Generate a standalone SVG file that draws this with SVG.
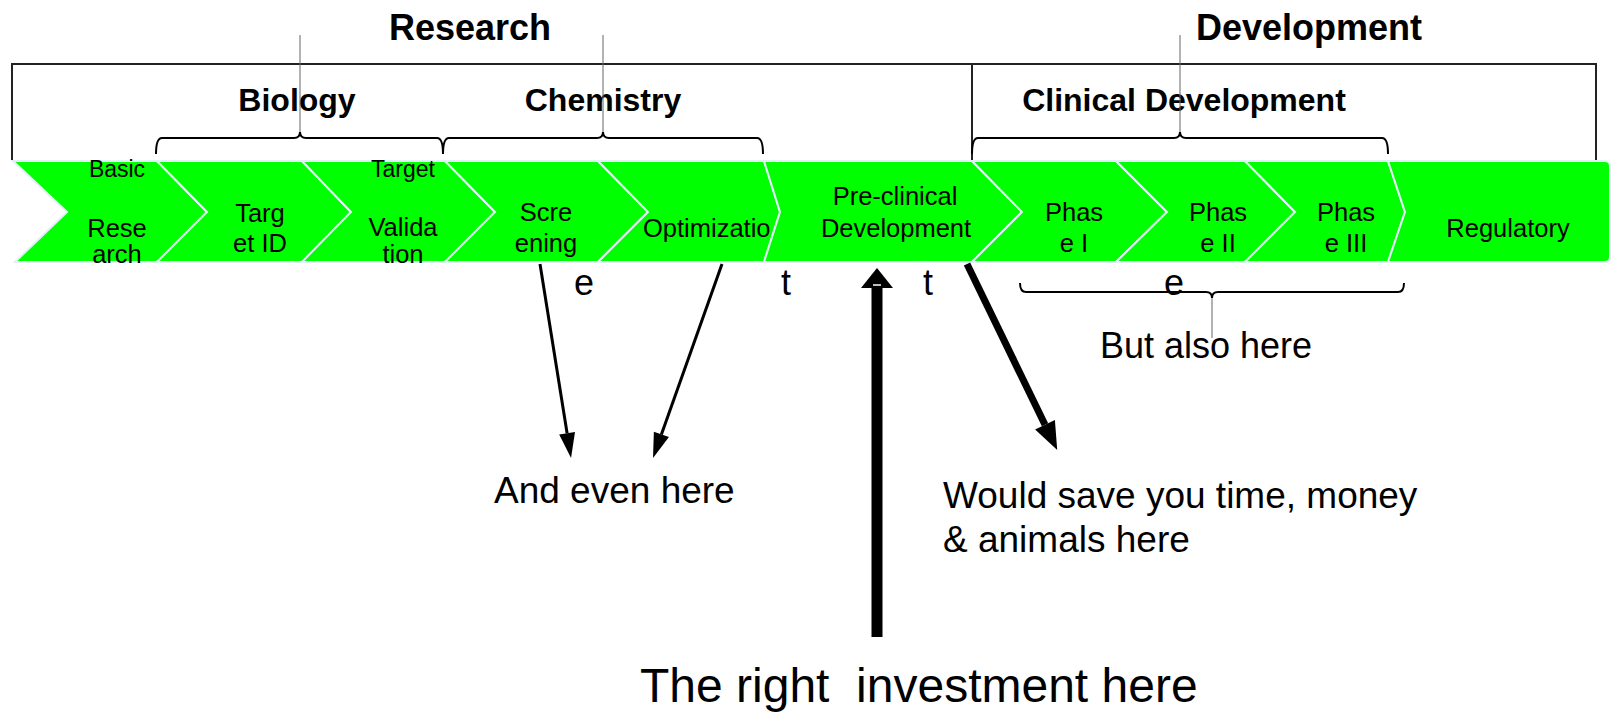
<svg xmlns="http://www.w3.org/2000/svg" width="1612" height="714" viewBox="0 0 1612 714">
<style>
text{font-family:"Liberation Sans",Arial,Helvetica,sans-serif;fill:#000}
.h1{font-size:36px;font-weight:bold;text-anchor:middle}
.h2{font-size:32px;font-weight:bold;text-anchor:middle}
.chev{fill:#00ff00;stroke:#e4eefa;stroke-width:2;stroke-linejoin:miter}
.t{font-size:25.5px;text-anchor:middle}
.ts{font-size:23px;text-anchor:middle}
.big{font-size:37px}
.stray{font-size:36px;text-anchor:middle}
.frame{fill:none;stroke:#222;stroke-width:2}
.brace{fill:none;stroke:#000;stroke-width:2}
.lead{stroke:#666;stroke-width:1;fill:none}
.arr{fill:none;stroke:#000}
</style>
<defs>
<marker id="headA" markerUnits="userSpaceOnUse" markerWidth="25" markerHeight="16" refX="0" refY="8" orient="auto" overflow="visible"><path d="M0,0 L25,8 L0,16 Z" fill="#000"/></marker>
<marker id="headC" markerUnits="userSpaceOnUse" markerWidth="20" markerHeight="32" refX="0" refY="16" orient="auto" overflow="visible"><path d="M0,0 L20,16 L0,32 Z" fill="#000"/></marker>
<marker id="headD" markerUnits="userSpaceOnUse" markerWidth="28" markerHeight="22" refX="0" refY="11" orient="auto" overflow="visible"><path d="M0,0 L28,11 L0,22 Z" fill="#000"/></marker>
</defs>

<g id="frame">
<path class="frame" d="M12,160 V64 H1596 V160"/>
<path class="frame" d="M972,64 V160"/>
</g>

<g id="braces">
<path class="brace" d="M156,154 Q156,138 162,138 L294,138 Q300,138 300,132 Q300,138 306,138 L437,138 Q443,138 443,154"/>
<path class="brace" d="M443,154 Q443,138 449,138 L597,138 Q603,138 603,132 Q603,138 609,138 L757,138 Q763,138 763,154"/>
<path class="brace" d="M972,154 Q972,138 978,138 L1174,138 Q1180,138 1180,132 Q1180,138 1186,138 L1382,138 Q1388,138 1388,154"/>
<path class="brace" d="M1020,283 Q1020,292 1026,292 L1206,292 Q1212,292 1212,298 Q1212,292 1218,292 L1398,292 Q1404,292 1404,283"/>
</g>

<g id="label-research"><text class="h1" x="470" y="40">Research</text></g>
<g id="label-development"><text class="h1" x="1309" y="40">Development</text></g>
<g id="label-biology"><text class="h2" x="297" y="111">Biology</text></g>
<g id="label-chemistry"><text class="h2" x="603" y="111">Chemistry</text></g>
<g id="label-clinical"><text class="h2" x="1184" y="111">Clinical Development</text></g>

<g id="leaders">
<path class="lead" d="M300,35 V132"/>
<path class="lead" d="M603,35 V132"/>
<path class="lead" d="M1180,35 V132"/>
<path class="lead" d="M1212,298 V338"/>
</g>

<g id="node-basic-research">
<polygon class="chev" points="13,161 157,161 207,212 157,262 15,262 67,212"/>
<text class="ts" x="117" y="177">Basic</text>
<text class="t" x="117" y="237">Rese</text>
<text class="t" x="117" y="263">arch</text>
</g>
<g id="node-target-id">
<polygon class="chev" points="157,161 302,161 351,212 302,262 157,262 207,212"/>
<text class="t" x="260" y="222">Targ</text>
<text class="t" x="260" y="252">et ID</text>
</g>
<g id="node-target-validation">
<polygon class="chev" points="302,161 445,161 495,212 445,262 302,262 351,212"/>
<text class="ts" x="403" y="177">Target</text>
<text class="t" x="403" y="236">Valida</text>
<text class="t" x="403" y="263">tion</text>
</g>
<g id="node-screening">
<polygon class="chev" points="445,161 598,161 648,212 598,262 445,262 495,212"/>
<text class="t" x="546" y="221">Scre</text>
<text class="t" x="546" y="252">ening</text>
</g>
<g id="node-optimization">
<polygon class="chev" points="598,161 764,161 780,212 764,262 598,262 648,212"/>
<text class="t" x="643" y="237" style="text-anchor:start">Optimizatio</text>
</g>
<g id="node-preclinical">
<polygon class="chev" points="764,161 972,161 1022,212 972,262 764,262 780,212"/>
<text class="t" x="895" y="205">Pre-clinical</text>
<text class="t" x="896" y="237">Development</text>
</g>
<g id="node-phase1">
<polygon class="chev" points="972,161 1116,161 1167,212 1116,262 972,262 1022,212"/>
<text class="t" x="1074" y="221">Phas</text>
<text class="t" x="1074" y="252">e I</text>
</g>
<g id="node-phase2">
<polygon class="chev" points="1116,161 1245,161 1295,212 1245,262 1116,262 1167,212"/>
<text class="t" x="1218" y="221">Phas</text>
<text class="t" x="1218" y="252">e II</text>
</g>
<g id="node-phase3">
<polygon class="chev" points="1245,161 1388,161 1405,212 1388,262 1245,262 1295,212"/>
<text class="t" x="1346" y="221">Phas</text>
<text class="t" x="1346" y="252">e III</text>
</g>
<g id="node-regulatory">
<path class="chev" d="M1388,161 H1605 Q1610,161 1610,166 V257 Q1610,262 1605,262 H1388 L1405,212 Z"/>
<text class="t" x="1508" y="237">Regulatory</text>
</g>

<g id="stray-letters">
<text class="stray" x="584" y="295">e</text>
<text class="stray" x="786" y="295">t</text>
<text class="stray" x="928" y="295">t</text>
<text class="stray" x="1174" y="295">e</text>
</g>

<g id="connectors">
<path class="arr" stroke-width="3" d="M540,264 L567.1,433.3" marker-end="url(#headA)"/>
<path class="arr" stroke-width="3" d="M722,264 L661.4,434.4" marker-end="url(#headA)"/>
<path class="arr" stroke-width="11" d="M877,637 L877,288" marker-end="url(#headC)"/>
<path d="M873,285 H881" stroke="#fff" stroke-width="1.5"/>
<path class="arr" stroke-width="7" d="M967,264 L1045,424.8" marker-end="url(#headD)"/>
</g>

<g id="note-even-here"><text class="big" x="494" y="503">And even here</text></g>
<g id="note-also-here"><text class="big" x="1100" y="358" style="font-size:36px">But also here</text></g>
<g id="note-save">
<text class="big" x="943" y="508">Would save you time, money</text>
<text class="big" x="943" y="552">&amp; animals here</text>
</g>
<g id="note-investment"><text x="640" y="702" style="font-size:48px" xml:space="preserve">The right  investment here</text></g>
</svg>
